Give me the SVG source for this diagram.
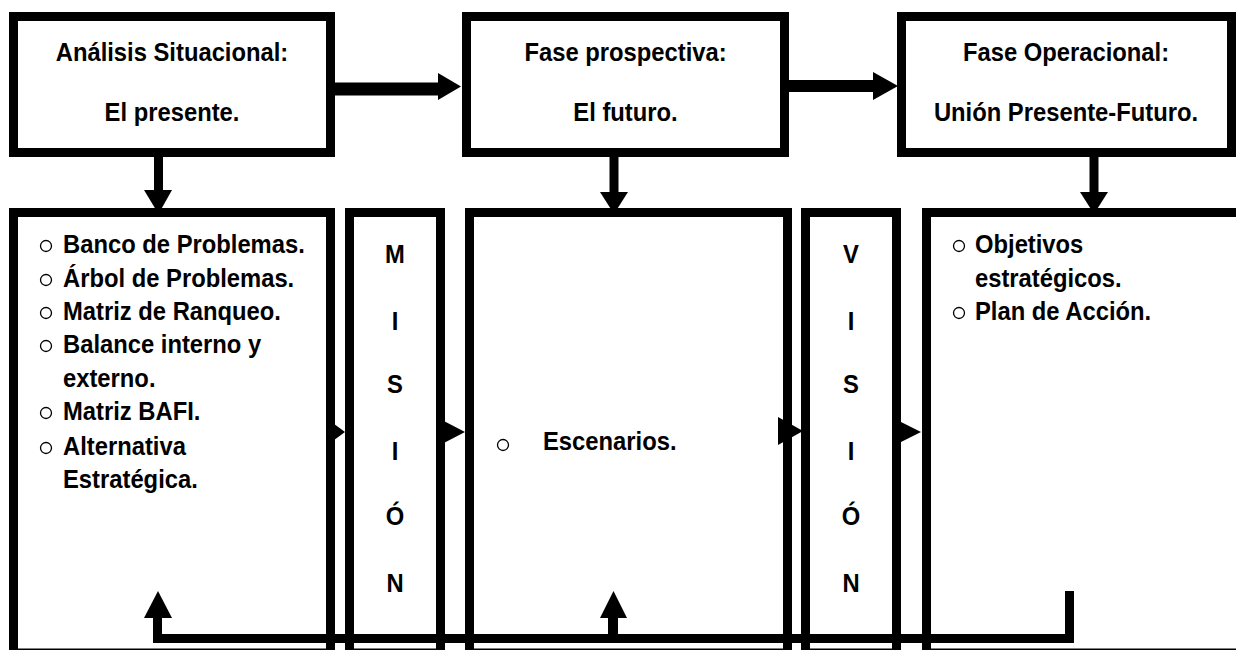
<svg xmlns="http://www.w3.org/2000/svg" width="1236" height="650" viewBox="0 0 1236 650">
  <style>
    .box { fill: #ffffff; stroke: #000000; stroke-width: 9; }
    .t { font-family: "Liberation Sans", Arial, sans-serif; font-weight: bold; font-size: 26px; fill: #000000; }
    .c { text-anchor: middle; }
    .bul { fill: none; stroke: #000000; stroke-width: 1.3; }
    .line { fill: none; stroke: #000000; stroke-linejoin: miter; stroke-linecap: butt; }
    .head { fill: #000000; }
  </style>

  <!-- text is set in a slightly condensed bold face: each label is placed by translate and narrowed by scale -->

  <!-- upper phase boxes -->
  <g id="fase-situacional">
    <rect class="box" x="13.5" y="16.5" width="317" height="136"/>
    <text class="t c" transform="translate(172 61) scale(0.915 1)">Análisis Situacional:</text>
    <text class="t c" transform="translate(172 121) scale(0.915 1)">El presente.</text>
  </g>
  <g id="fase-prospectiva">
    <rect class="box" x="466.5" y="16.5" width="318" height="136"/>
    <text class="t c" transform="translate(625.5 61) scale(0.915 1)">Fase prospectiva:</text>
    <text class="t c" transform="translate(625.5 121) scale(0.915 1)">El futuro.</text>
  </g>
  <g id="fase-operacional">
    <rect class="box" x="901.5" y="16.5" width="330" height="136"/>
    <text class="t c" transform="translate(1066 61) scale(0.915 1)">Fase Operacional:</text>
    <text class="t c" transform="translate(1066 121) scale(0.915 1)">Unión Presente-Futuro.</text>
  </g>

  <!-- lower content boxes (bottom edge sits at the page edge) -->
  <g id="contenido-situacional">
    <rect class="box" x="13.5" y="212.5" width="317" height="440.5"/>
    <circle class="bul" cx="46" cy="246" r="5.5"/>
    <text class="t" transform="translate(63 253) scale(0.915 1)">Banco de Problemas.</text>
    <circle class="bul" cx="46" cy="280" r="5.5"/>
    <text class="t" transform="translate(63 287) scale(0.915 1)">Árbol de Problemas.</text>
    <circle class="bul" cx="46" cy="313" r="5.5"/>
    <text class="t" transform="translate(63 320) scale(0.915 1)">Matriz de Ranqueo.</text>
    <circle class="bul" cx="46" cy="346" r="5.5"/>
    <text class="t" transform="translate(63 353) scale(0.915 1)">Balance interno y</text>
    <text class="t" transform="translate(63 387) scale(0.915 1)">externo.</text>
    <circle class="bul" cx="46" cy="413" r="5.5"/>
    <text class="t" transform="translate(63 420) scale(0.915 1)">Matriz BAFI.</text>
    <circle class="bul" cx="46" cy="448" r="5.5"/>
    <text class="t" transform="translate(63 455) scale(0.915 1)">Alternativa</text>
    <text class="t" transform="translate(63 488) scale(0.915 1)">Estratégica.</text>
  </g>

  <g id="mision">
    <rect class="box" x="349.5" y="212.5" width="91" height="440.5"/>
    <text class="t c" transform="translate(395 263) scale(0.915 1)">M</text>
    <text class="t c" transform="translate(395 330) scale(0.915 1)">I</text>
    <text class="t c" transform="translate(395 393) scale(0.915 1)">S</text>
    <text class="t c" transform="translate(395 460) scale(0.915 1)">I</text>
    <text class="t c" transform="translate(395 525) scale(0.915 1)">Ó</text>
    <text class="t c" transform="translate(395 592) scale(0.915 1)">N</text>
  </g>

  <g id="contenido-prospectiva">
    <rect class="box" x="469.5" y="212.5" width="318" height="440.5"/>
    <circle class="bul" cx="503" cy="445" r="5.5"/>
    <text class="t" transform="translate(543 450) scale(0.915 1)">Escenarios.</text>
  </g>

  <g id="vision">
    <rect class="box" x="805.5" y="212.5" width="91" height="440.5"/>
    <text class="t c" transform="translate(851 263) scale(0.915 1)">V</text>
    <text class="t c" transform="translate(851 330) scale(0.915 1)">I</text>
    <text class="t c" transform="translate(851 393) scale(0.915 1)">S</text>
    <text class="t c" transform="translate(851 460) scale(0.915 1)">I</text>
    <text class="t c" transform="translate(851 525) scale(0.915 1)">Ó</text>
    <text class="t c" transform="translate(851 592) scale(0.915 1)">N</text>
  </g>

  <g id="contenido-operacional">
    <rect class="box" x="926.5" y="212.5" width="340" height="440.5"/>
    <circle class="bul" cx="959" cy="246" r="5.5"/>
    <text class="t" transform="translate(975 253) scale(0.915 1)">Objetivos</text>
    <text class="t" transform="translate(975 287) scale(0.915 1)">estratégicos.</text>
    <circle class="bul" cx="959" cy="313" r="5.5"/>
    <text class="t" transform="translate(975 320) scale(0.915 1)">Plan de Acción.</text>
  </g>

  <!-- connectors -->
  <g id="conectores">
    <!-- upper horizontal flow -->
    <line class="line" x1="335" y1="89" x2="440" y2="89" stroke-width="13"/>
    <polygon class="head" points="438,73 461,86.5 438,100"/>
    <line class="line" x1="789" y1="86" x2="875" y2="86" stroke-width="12"/>
    <polygon class="head" points="873,72 898,86 873,100"/>

    <!-- downward arrows from phases to contents -->
    <line class="line" x1="158.5" y1="157" x2="158.5" y2="192" stroke-width="9"/>
    <polygon class="head" points="144,190 158.5,214 172,190"/>
    <line class="line" x1="614" y1="157" x2="614" y2="194" stroke-width="9"/>
    <polygon class="head" points="600,192 614,214 628,192"/>
    <line class="line" x1="1094" y1="157" x2="1094" y2="194" stroke-width="9"/>
    <polygon class="head" points="1080,192 1094,214 1108,192"/>

    <!-- small arrows between lower columns -->
    <polygon class="head" points="326,418 345,432 326,446"/>
    <polygon class="head" points="440,419 465,432 440,445"/>
    <polygon class="head" points="778,417 803,431 778,445"/>
    <polygon class="head" points="895,419 921,432 895,445"/>

    <!-- feedback loop along the bottom -->
    <polyline class="line" points="1069.5,591 1069.5,638.5 157.5,638.5 157.5,616" stroke-width="9"/>
    <polygon class="head" points="144,618 158,591 172,618"/>
    <line class="line" x1="613" y1="638.5" x2="613" y2="616" stroke-width="10"/>
    <polygon class="head" points="600,618 613.5,591 627,618"/>
  </g>
</svg>
